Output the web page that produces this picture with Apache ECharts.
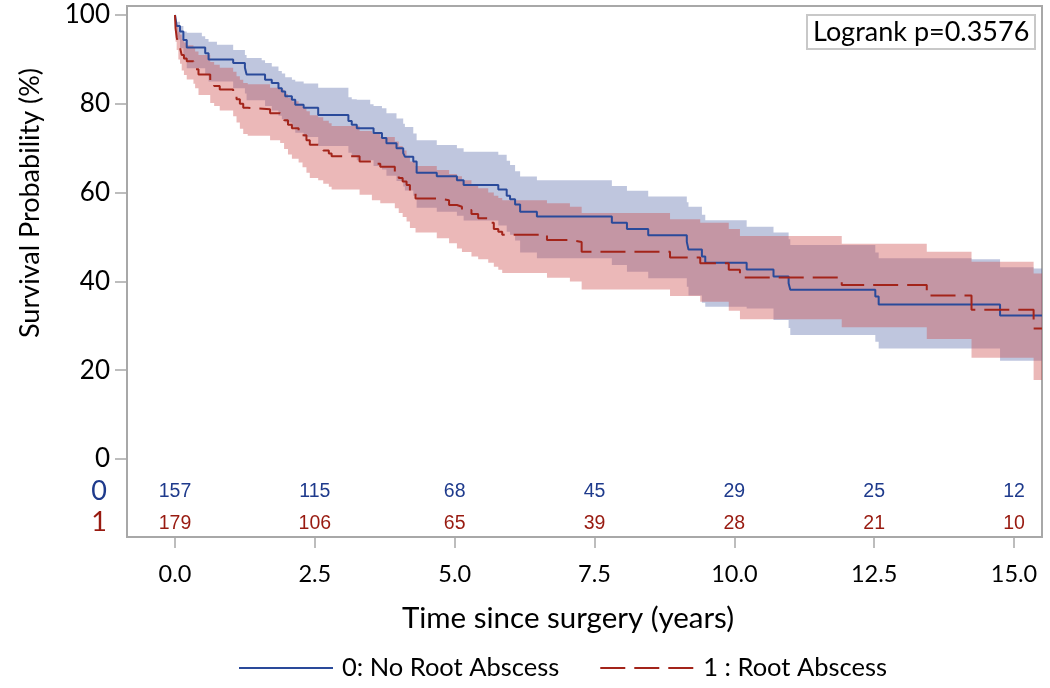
<!DOCTYPE html>
<html><head><meta charset="utf-8">
<script src="https://cdn.jsdelivr.net/npm/echarts@6/dist/echarts.min.js"></script>
<style>html,body{margin:0;padding:0;background:#fff}#c{width:1050px;height:688px}</style>
</head><body><div id="c"></div>
<script>
// ---- data ----
const blueTime  = [0,0.03,0.09,0.15,0.21,0.48,0.54,0.60,0.75,1.04,1.25,1.28,1.55,1.61,1.73,1.85,1.91,1.97,2.09,2.15,2.30,2.56,3.10,3.16,3.25,3.49,3.55,3.70,3.78,3.96,4.08,4.11,4.26,4.32,4.68,5.04,5.16,5.78,5.93,5.99,6.08,6.17,6.47,7.81,8.08,8.46,9.15,9.18,9.42,9.48,10.22,10.70,10.97,11.00,12.52,12.58,14.24,14.75,15.35,15.50];
const blueSurv  = [100,97.5,96.3,94.4,92.7,92.7,91.4,90.0,90.0,89.2,88.1,86.6,86.6,85.4,84.7,83.5,82.8,81.7,80.9,79.8,79.1,77.5,76.1,75.3,74.5,74.5,73.4,72.3,71.1,70.0,68.9,68.1,67.0,64.5,63.7,62.8,61.7,60.7,59.3,58.5,57.3,55.7,54.6,53.2,51.8,50.4,48.9,47.2,45.6,44.2,42.7,41.1,39.6,38.1,36.6,34.8,34.8,32.3,32.3,32.3];
const blueLower = [100,94.5,92.5,90.0,88.0,88.0,86.5,85.0,85.0,83.5,82.3,80.8,80.8,79.5,78.5,77.3,76.5,75.8,74.8,73.5,72.5,70.5,69.0,68.2,67.3,67.3,66.0,65.2,63.8,62.6,61.4,60.5,59.3,56.6,55.7,54.8,53.7,52.6,51.2,50.5,49.2,46.5,45.2,43.7,42.2,40.7,38.8,36.8,35.2,34.3,33.9,31.3,29.5,27.9,26.4,24.9,24.9,22.1,22.1,22.1];
const blueUpper = [100,98.5,97.5,96.3,96.0,95.2,94.6,94.0,93.3,92.1,91.0,90.3,89.8,89.2,88.4,87.4,86.8,86.0,85.4,85.0,84.6,83.6,81.5,81.0,80.9,79.9,79.5,79.0,77.9,76.7,75.5,74.8,73.3,71.8,70.7,70.0,69.2,68.5,67.2,66.2,64.8,63.6,62.8,61.5,60.4,59.1,57.8,56.8,55.0,53.8,52.3,51.0,49.5,48.2,46.5,45.2,45.0,43.2,42.9,42.9];

const redTime  = [0,0.01,0.03,0.06,0.09,0.12,0.16,0.21,0.33,0.36,0.42,0.63,0.70,0.80,1.04,1.10,1.16,1.22,1.30,1.70,1.88,1.95,2.02,2.09,2.21,2.28,2.35,2.41,2.56,2.65,2.75,2.80,3.30,3.52,3.67,3.93,4.00,4.07,4.14,4.20,4.30,4.68,4.90,5.04,5.13,5.30,5.42,5.60,5.70,5.78,5.85,6.65,7.06,7.27,8.85,9.39,9.90,10.10,11.92,13.44,14.24,15.35,15.50];
const redSurv  = [100,97,95,93.3,92.6,91.0,90.2,89.6,88.8,87.8,86.6,84.7,84.0,83.2,82.1,81.0,80.0,79.1,78.8,77.9,77.5,76.3,75.3,74.5,73.8,72.9,71.8,70.8,70.4,69.5,68.8,68.2,67.0,66.5,65.8,64.3,63.3,62.5,61.7,59.8,58.7,58.3,57.2,56.8,56.1,55.2,54.2,53.2,51.8,51.2,50.5,49.3,48.9,46.7,45.4,44.1,42.6,40.9,39.2,36.8,33.6,29.4,29.4];
const redLower = [100,94,92.1,90.0,89.0,87.5,86.5,85.5,84.5,83.5,82.0,80.2,79.5,78.5,77.2,75.8,74.4,73.2,72.8,71.8,71.2,69.8,68.6,67.6,66.8,65.7,64.5,63.3,62.8,62.0,61.3,60.7,59.5,58.3,57.6,56.5,55.4,54.5,53.5,52.0,51.0,49.7,48.6,47.4,46.6,45.6,45.0,44.2,43.3,42.6,41.9,40.8,40.0,38.2,36.7,35.4,33.4,31.5,29.7,27.0,22.8,17.8,17.8];
const redUpper = [100,99,97.5,96.3,95.6,94.5,93.8,93.2,92.6,91.8,91.0,89.4,88.8,88.1,87.2,86.2,85.4,84.7,84.4,83.6,83.2,82.2,81.3,80.6,80.0,79.2,78.3,77.4,77.0,76.2,75.6,75.0,73.9,73.4,72.5,71.5,70.5,69.5,68.3,67.0,66.0,65.1,64.2,63.7,62.8,61.8,61.0,60.0,59.3,58.8,58.3,57.6,56.8,55.4,54.0,53.2,51.8,50.2,48.5,46.7,44.4,41.8,41.8];

const atRiskTimes = [0, 2.5, 5, 7.5, 10, 12.5, 15];
const atRisk0 = [157, 115, 68, 45, 29, 25, 12];
const atRisk1 = [179, 106, 65, 39, 28, 21, 10];
const xTicks = [0, 2.5, 5, 7.5, 10, 12.5, 15];
const yTicks = [0, 20, 40, 60, 80, 100];
const groupNames = ['0: No Root Abscess', '1 : Root Abscess'];
const rowLabels = ['0', '1'];
const logrankText = 'Logrank p=0.3576';
const xTitle = 'Time since surgery (years)';
const yTitle = 'Survival Probability (%)';

// ---- styling ----
const BLUE = '#2A4A9A', RED = '#A3241A';
const BLUE_TXT = '#1E3A8C', RED_TXT = '#981A10';
const FRAME = '#A8A8A8';
const FONT = 'Lato';
const ROW_Y = [-7.4, -14.5]; // vertical placement of the at-risk rows (axis units)

const zip = (a, b) => a.map((v, i) => [v, b[i]]);

const chart = echarts.init(document.getElementById('c'), null, {renderer: 'canvas'});

// confidence band drawn as one step-shaped polygon through the axes' scales
function bandSeries(name, t, lo, hi, color) {
  return {
    name, type: 'custom', silent: true, z: 1, clip: true,
    data: t.map((v, i) => [v, lo[i], hi[i]]),
    encode: {x: 0, y: [1, 2]},
    renderItem: (params, api) => {
      if (params.dataIndex !== 0) return null;
      const top = [], bot = [];
      for (let i = 0; i < t.length; i++) {
        const tNext = i < t.length - 1 ? t[i + 1] : t[i];
        top.push(api.coord([t[i], hi[i]]), api.coord([tNext, hi[i]]));
        bot.push(api.coord([t[i], lo[i]]), api.coord([tNext, lo[i]]));
      }
      return {type: 'polygon', shape: {points: top.concat(bot.reverse())},
              style: {fill: color, opacity: 0.4, stroke: null}};
    }
  };
}

const atRiskData = [];
atRiskTimes.forEach((t, i) => {
  atRiskData.push({value: [t, ROW_Y[0], atRisk0[i]], label: {color: BLUE_TXT}});
  atRiskData.push({value: [t, ROW_Y[1], atRisk1[i]], label: {color: RED_TXT}});
});

chart.setOption({
  animation: false,
  backgroundColor: '#fff',
  grid: {left: 127, right: 8, top: 6, bottom: 151, show: true, borderColor: FRAME, borderWidth: 2, containLabel: false},
  title: {
    text: logrankText, left: 807, top: 15, padding: [3, 6, 3, 6],
    borderColor: '#C8C8C8', borderWidth: 2, backgroundColor: '#fff',
    textStyle: {fontFamily: FONT, fontSize: 27, fontWeight: 'normal', color: '#000', lineHeight: 28}
  },
  legend: {
    data: groupNames, left: 233, top: 650, itemWidth: 94, itemHeight: 14, itemGap: 40,
    itemStyle: {opacity: 0},
    textStyle: {fontFamily: FONT, fontSize: 25.5, color: '#000', padding: [0, 0, 0, 4]},
    selectedMode: false
  },
  xAxis: {
    type: 'value', min: -0.858, max: 15.5,
    splitLine: {show: false},
    axisLine: {show: true, onZero: false, lineStyle: {color: FRAME, width: 2}},
    axisTick: {show: true, customValues: xTicks, length: 11, lineStyle: {color: FRAME, width: 1.5}},
    axisLabel: {customValues: xTicks, formatter: v => v.toFixed(1), margin: 25, fontFamily: FONT, fontSize: 23.5, color: '#000'}
  },
  yAxis: {
    type: 'value', min: -17.57, max: 102.03,
    splitLine: {show: false},
    axisLine: {show: true, onZero: false, lineStyle: {color: FRAME, width: 2}},
    axisTick: {show: true, customValues: yTicks, length: 12, lineStyle: {color: FRAME, width: 1.5}},
    axisLabel: {customValues: yTicks, margin: 17, fontFamily: FONT, fontSize: 26, color: '#000'}
  },
  graphic: [
    {type: 'text', x: 30, y: 203, rotation: Math.PI / 2, silent: true,
     style: {text: yTitle, fontFamily: FONT, fontSize: 27, fill: '#000', align: 'center', verticalAlign: 'middle'}},
    {type: 'text', x: 568, y: 618, silent: true,
     style: {text: xTitle, fontFamily: FONT, fontSize: 29.5, fill: '#000', align: 'center', verticalAlign: 'middle'}},
    {type: 'text', x: 99, y: 491, silent: true,
     style: {text: rowLabels[0], fontFamily: FONT, fontSize: 27, fill: BLUE_TXT, align: 'center', verticalAlign: 'middle'}},
    {type: 'text', x: 99, y: 522, silent: true,
     style: {text: rowLabels[1], fontFamily: FONT, fontSize: 27, fill: RED_TXT, align: 'center', verticalAlign: 'middle'}}
  ],
  series: [
    bandSeries('bandBlue', blueTime, blueLower, blueUpper, '#5F70AC'),
    bandSeries('bandRed', redTime, redLower, redUpper, '#CD4D4D'),
    {name: groupNames[0], type: 'line', step: 'end', data: zip(blueTime, blueSurv), symbol: 'none', showSymbol: false,
     color: BLUE, lineStyle: {color: BLUE, width: 2}, z: 3},
    {name: groupNames[1], type: 'line', step: 'end', data: zip(redTime, redSurv), symbol: 'none', showSymbol: false,
     color: RED, lineStyle: {color: RED, width: 2, type: [25, 9]}, z: 3},
    {name: 'atRisk', type: 'scatter', data: atRiskData, symbolSize: 0, silent: true, z: 4,
     itemStyle: {opacity: 1},
     label: {show: true, position: 'inside', formatter: p => String(p.value[2]), fontFamily: 'Liberation Sans', fontSize: 19.5, opacity: 1}}
  ]
});
</script>
</body></html>
